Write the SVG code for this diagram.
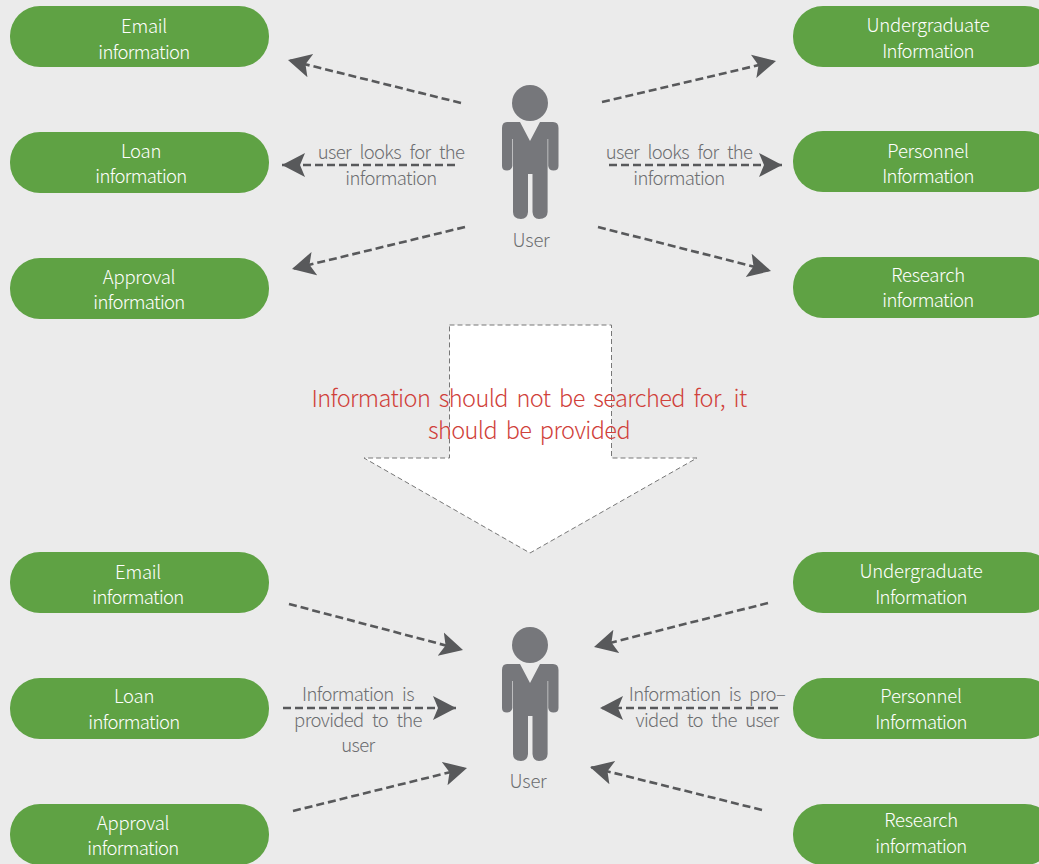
<svg xmlns="http://www.w3.org/2000/svg" width="1039" height="864" viewBox="0 0 1039 864">
<style>
text{font-family:"Noto Sans CJK KR","Noto Sans",sans-serif;font-weight:300;text-anchor:middle;letter-spacing:-.65px;word-spacing:5px}
.pill{fill:#5fa244}
.pt{fill:#fff;font-size:18.500px}
.gt{fill:#6d6e71;font-size:18.500px}
.rt{fill:#d0413a;font-size:23.500px;letter-spacing:-.6px;word-spacing:4px}
.w{letter-spacing:-.25px}
.c{fill:none;stroke:#58595b;stroke-width:2.600;stroke-dasharray:8 4;marker-end:url(#a)}
.p{fill:#76777b}
</style>
<defs>
<marker id="a" markerUnits="userSpaceOnUse" markerWidth="26" markerHeight="28" refX="23" refY="13" orient="auto" viewBox="0 0 26 28"><path d="M0 1L23 13L0 25L5 13z" fill="#58595b"/></marker>
<g id="person">
<circle cx="530" cy="103" r="18" class="p"/>
<path class="p" d="M507 122H520L530 141L540 122H553Q558.500 122 558.500 128V166Q558.500 170.500 553.500 170.500Q549 170.500 548.200 166V139H547.600V212Q547.500 219 539 219Q533 219 532.500 212V174H528V212Q527.500 219 521 219Q513 219 513 212V139H512.400V166Q511.500 170.500 507 170.500Q502 170.500 502 166V128Q502 122 507 122Z"/>
</g>
</defs>
<rect width="1039" height="864" fill="#ebebeb"/>
<g id="down-arrow"><path d="M449.500 325H611.500V458H697L530 553L364 458H449.500Z" fill="#fff" stroke="#777" stroke-width="1" stroke-dasharray="5 3"/></g>
<g id="connectors">
<path class="c" d="M461 103L288 60"/>
<path class="c" d="M455 165H282"/>
<path class="c" d="M465 227L292 269"/>
<path class="c" d="M602 102L776 61"/>
<path class="c" d="M609 165H782"/>
<path class="c" d="M598 227L771 271"/>
<path class="c" d="M289 604L463 650"/>
<path class="c" d="M283 708H456"/>
<path class="c" d="M293 811L467 768"/>
<path class="c" d="M768 603L594 647"/>
<path class="c" d="M778 708H600"/>
<path class="c" d="M762 810L590 767"/>
</g>
<g id="email-top"><rect class="pill" x="10" y="6" width="259" height="61" rx="30"/><text class="pt w" x="144" y="33">Email</text><text class="pt" x="144" y="59">information</text></g>
<g id="loan-top"><rect class="pill" x="10" y="132" width="259" height="61" rx="30"/><text class="pt w" x="141" y="158">Loan</text><text class="pt" x="141" y="183">information</text></g>
<g id="approval-top"><rect class="pill" x="10" y="258" width="259" height="61" rx="30"/><text class="pt w" x="139" y="284">Approval</text><text class="pt" x="139" y="309">information</text></g>
<g id="undergrad-top"><rect class="pill" x="793" y="6" width="262" height="61" rx="30"/><text class="pt w" x="928" y="32">Undergraduate</text><text class="pt" x="928" y="58">Information</text></g>
<g id="personnel-top"><rect class="pill" x="793" y="131" width="262" height="61" rx="30"/><text class="pt w" x="928" y="158">Personnel</text><text class="pt" x="928" y="183">Information</text></g>
<g id="research-top"><rect class="pill" x="793" y="257" width="262" height="61" rx="30"/><text class="pt w" x="928" y="282">Research</text><text class="pt" x="928" y="307">information</text></g>
<g id="user-top"><use href="#person"/><text class="gt w" x="531" y="247">User</text></g>
<g id="labels-top">
<text class="gt" x="391" y="159">user looks for the</text><text class="gt" x="391" y="185">information</text>
<text class="gt" x="679" y="159">user looks for the</text><text class="gt" x="679" y="185">information</text>
</g>
<g id="message"><text class="rt" x="529" y="407">Information should not be searched for, it</text><text class="rt" x="529" y="439">should be provided</text></g>
<g id="email-bottom"><rect class="pill" x="10" y="552" width="259" height="61" rx="30"/><text class="pt w" x="138" y="579">Email</text><text class="pt" x="138" y="604">information</text></g>
<g id="loan-bottom"><rect class="pill" x="10" y="678" width="259" height="61" rx="30"/><text class="pt w" x="134" y="703">Loan</text><text class="pt" x="134" y="729">information</text></g>
<g id="approval-bottom"><rect class="pill" x="10" y="804" width="259" height="61" rx="30"/><text class="pt w" x="133" y="830">Approval</text><text class="pt" x="133" y="855">information</text></g>
<g id="undergrad-bottom"><rect class="pill" x="793" y="552" width="262" height="61" rx="30"/><text class="pt w" x="921" y="578">Undergraduate</text><text class="pt" x="921" y="604">Information</text></g>
<g id="personnel-bottom"><rect class="pill" x="793" y="678" width="262" height="61" rx="30"/><text class="pt w" x="921" y="703">Personnel</text><text class="pt" x="921" y="729">Information</text></g>
<g id="research-bottom"><rect class="pill" x="793" y="804" width="262" height="61" rx="30"/><text class="pt w" x="921" y="827">Research</text><text class="pt" x="921" y="853">information</text></g>
<g id="user-bottom"><use href="#person" y="542"/><text class="gt w" x="528" y="788">User</text></g>
<g id="labels-bottom">
<text class="gt" x="358" y="701">Information is</text><text class="gt" x="358" y="727">provided to the</text><text class="gt" x="358" y="752">user</text>
<text class="gt" x="707" y="701">Information is pro–</text><text class="gt" x="707" y="727">vided to the user</text>
</g>
</svg>
